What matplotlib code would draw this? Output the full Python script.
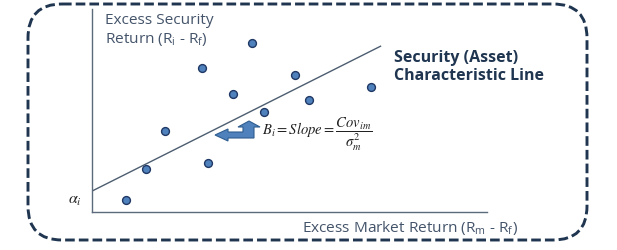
import matplotlib
matplotlib.use("Agg")
import matplotlib.pyplot as plt
from matplotlib.patches import FancyBboxPatch, Polygon
import numpy as np

# Excess market return vs excess security return (arbitrary units)
market_excess = [0.86, 1.37, 1.85, 2.94, 2.78, 3.57, 4.05, 4.35, 5.14, 5.49, 7.06]
security_excess = [0.59, 2.12, 3.99, 2.41, 7.09, 5.81, 8.33, 4.93, 6.75, 5.52, 6.16]

# Characteristic line: intercept (alpha) and slope (beta)
alpha = 1.03
beta = 0.977
line_x = [0.0, 7.32]

W, H = 617, 251
fig = plt.figure(figsize=(W / 100, H / 100), dpi=100)

# overlay axes in pixel units for the frame and labels
ov = fig.add_axes([0, 0, 1, 1])
ov.set_xlim(0, W)
ov.set_ylim(H, 0)
ov.axis("off")

# main plotting axes
ax_l, ax_r, ax_t, ax_b = 92, 487, 10, 213
ax = fig.add_axes([ax_l / W, (H - ax_b) / H, (ax_r - ax_l) / W, (ax_b - ax_t) / H])
ax.set_xlim(0, 10)
ax.set_ylim(0, 10)
ax.set_xticks([])
ax.set_yticks([])
ax.patch.set_alpha(0)
for s in ("top", "right"):
    ax.spines[s].set_visible(False)
for s in ("left", "bottom"):
    ax.spines[s].set_color("#5b6b7c")
    ax.spines[s].set_linewidth(1.0)

navy = "#1f3550"
label_gray = "#44546a"

# regression line
lx = np.array(line_x)
ax.plot(lx, alpha + beta * lx, color="#4d5d70", lw=1.0, solid_capstyle="butt", zorder=2)

# observations
ax.scatter(market_excess, security_excess, s=32, facecolor="#4f81bd",
           edgecolor="#1f3864", linewidth=1.0, zorder=3, clip_on=False)

# rounded dashed frame
frame = FancyBboxPatch((28, 5), 559, 236,
                       boxstyle="round,pad=0,rounding_size=34",
                       fill=False, edgecolor=navy, lw=2.1,
                       linestyle=(0, (3.3, 1.4)), zorder=5)
ov.add_patch(frame)

# bent arrow pointing at the line
arrow_pts = [(215, 136), (228, 130), (228, 133), (243, 133), (243, 128), (238, 128),
             (249, 122), (260, 128), (254, 128), (254, 139), (228, 139), (228, 142)]
ov.add_patch(Polygon(arrow_pts, closed=True, facecolor="#4f81bd",
                     edgecolor="#2f5d8f", lw=0.8, zorder=4))

font = "Open Sans"
ov.text(105, 24, "Excess Security", fontsize=11.1, family=font, color=label_gray,
        va="baseline", ha="left")
ov.text(105, 43, r"Return (R$_\mathregular{i}$ - R$_\mathregular{f}$)", fontsize=11.1,
        family=font, color=label_gray, va="baseline", ha="left")
ov.text(302, 232, r"Excess Market Return (R$_\mathregular{m}$ - R$_\mathregular{f}$)",
        fontsize=11.1, family=font, color=label_gray, va="baseline", ha="left")
ov.text(394, 62, "Security (Asset)", fontsize=11.5, family=font, weight="bold",
        color=navy, va="baseline", ha="left")
ov.text(394, 80, "Characteristic Line", fontsize=11.5, family=font, weight="bold",
        color=navy, va="baseline", ha="left")

ov.text(68, 201, r"$\alpha_i$", fontsize=11.5, math_fontfamily="stix", color="#222222",
        va="center", ha="left")
ov.text(262, 134, r"$B_i = Slope = \dfrac{Cov_{im}}{\sigma^2_m}$", fontsize=10.5,
        math_fontfamily="stix", color="#222222", va="center", ha="left")

fig.savefig("out.png", dpi=100)
